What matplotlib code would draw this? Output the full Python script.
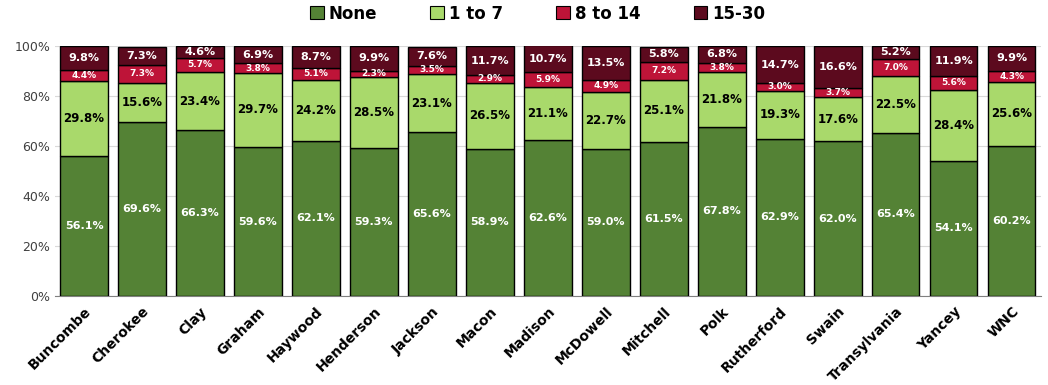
import matplotlib
matplotlib.use("Agg")
import matplotlib.pyplot as plt
from matplotlib.patches import Patch
import numpy as np

categories = ["Buncombe", "Cherokee", "Clay", "Graham", "Haywood", "Henderson",
              "Jackson", "Macon", "Madison", "McDowell", "Mitchell", "Polk",
              "Rutherford", "Swain", "Transylvania", "Yancey", "WNC"]
none_vals = [56.1, 69.6, 66.3, 59.6, 62.1, 59.3, 65.6, 58.9, 62.6, 59.0, 61.5,
             67.8, 62.9, 62.0, 65.4, 54.1, 60.2]
one_to_7 = [29.8, 15.6, 23.4, 29.7, 24.2, 28.5, 23.1, 26.5, 21.1, 22.7, 25.1,
            21.8, 19.3, 17.6, 22.5, 28.4, 25.6]
eight_to_14 = [4.4, 7.3, 5.7, 3.8, 5.1, 2.3, 3.5, 2.9, 5.9, 4.9, 7.2, 3.8,
               3.0, 3.7, 7.0, 5.6, 4.3]
fifteen_30 = [9.8, 7.3, 4.6, 6.9, 8.7, 9.9, 7.6, 11.7, 10.7, 13.5, 5.8, 6.8,
              14.7, 16.6, 5.2, 11.9, 9.9]

series_names = ["None", "1 to 7", "8 to 14", "15-30"]
series = [none_vals, one_to_7, eight_to_14, fifteen_30]
colors = ["#548235", "#A9D96B", "#BE1438", "#5C0A1E"]
text_colors = ["white", "black", "white", "white"]
label_sizes = [8, 8.5, 6.5, 8]

fig = plt.figure(figsize=(10.48, 3.85), dpi=100)
ax = fig.add_axes([0.0525, 0.231, 0.9405, 0.6495])

x = np.arange(len(categories))
bottom = np.zeros(len(categories))
for name, vals, col, tc, fs in zip(series_names, series, colors, text_colors, label_sizes):
    vals = np.array(vals)
    ax.bar(x, vals, bottom=bottom, width=0.82, color=col, edgecolor="black",
           linewidth=1.0, zorder=3)
    for xi, b, v in zip(x, bottom, vals):
        ax.text(xi, b + v / 2, f"{v:.1f}%", ha="center", va="center",
                color=tc, fontsize=fs, fontweight="bold", zorder=4)
    bottom = bottom + vals

ax.set_xlim(-0.5, len(categories) - 0.5)
ax.set_ylim(0, 100)
ax.set_yticks(np.arange(0, 101, 20))
ax.set_yticklabels([f"{v}%" for v in range(0, 101, 20)], fontsize=9, color="#404040")
ax.yaxis.grid(True, color="#D9D9D9", linewidth=0.8, zorder=0)
ax.set_axisbelow(True)
for s in ["top", "right", "left"]:
    ax.spines[s].set_visible(False)
ax.spines["bottom"].set_color("#808080")
ax.tick_params(axis="both", length=0)
ax.tick_params(axis="x", pad=6)
ax.set_xticks(x)
ax.set_xticklabels(categories, rotation=45, ha="right", rotation_mode="anchor",
                   fontsize=10, fontweight="bold")

handles = [Patch(facecolor=c, edgecolor="black", linewidth=0.8) for c in colors]
fig.legend(handles, series_names, loc="upper center", bbox_to_anchor=(0.513, 1.027),
           ncol=4, frameon=False, prop={"size": 12, "weight": "bold"},
           handlelength=0.8, handleheight=0.8, handletextpad=0.3, columnspacing=3.2)

fig.savefig("out.png", dpi=100)
